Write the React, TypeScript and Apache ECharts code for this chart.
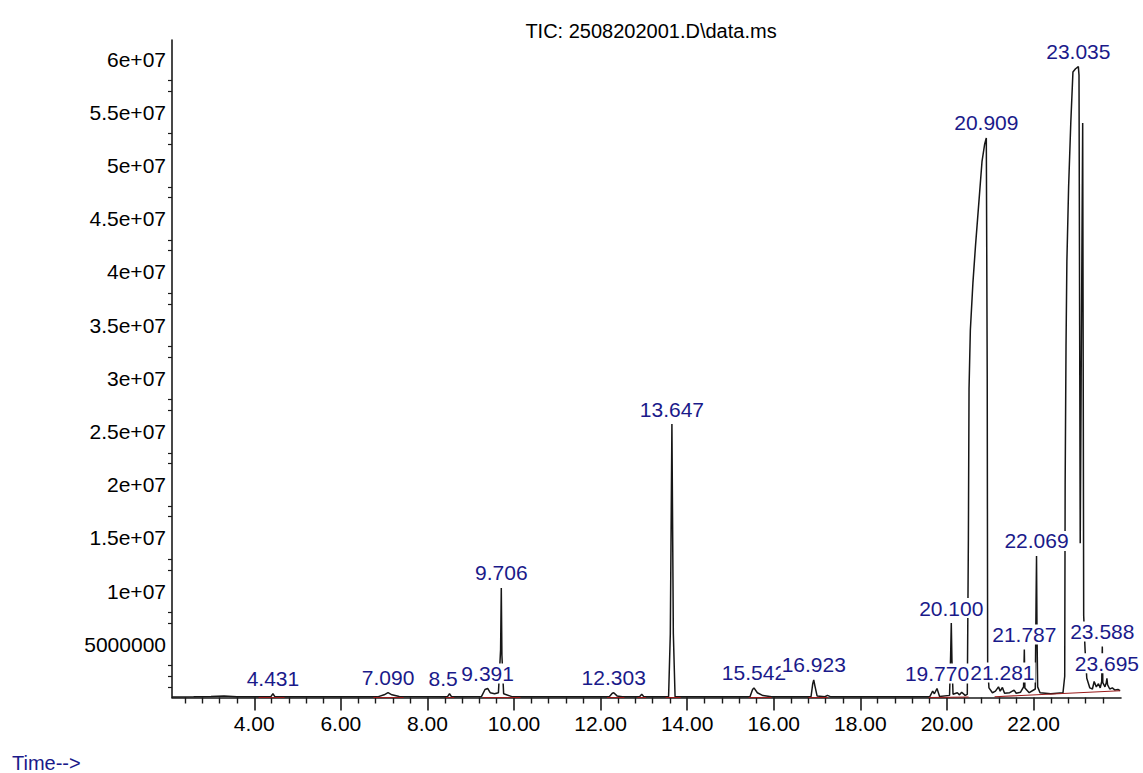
import React, { useEffect, useRef } from "react";
import * as echarts from "echarts";

// ---- Data ----
const retentionTime = [
  2.1, 2.6, 3.0, 3.3, 3.6, 4.38, 4.431, 4.48, 6.85, 7.0, 7.09, 7.18, 7.35,
  8.46, 8.51, 8.56, 9.25, 9.33, 9.391, 9.45, 9.55, 9.64, 9.69, 9.706, 9.72, 9.76, 9.95,
  12.2, 12.27, 12.303, 12.38, 12.5, 12.9, 12.95, 13.0,
  13.57, 13.61, 13.647, 13.68, 13.72,
  15.45, 15.51, 15.542, 15.62, 15.75, 15.95,
  16.86, 16.9, 16.923, 16.95, 17.0, 17.18, 17.24, 17.32,
  19.6, 19.67, 19.71, 19.77, 19.83,
  20.06, 20.085, 20.1, 20.115, 20.14, 20.24, 20.29, 20.34, 20.42, 20.47,
  20.495, 20.51, 20.54, 20.6, 20.66, 20.74, 20.81, 20.87, 20.909, 20.93, 20.94, 20.97,
  21.05, 21.12, 21.19, 21.23, 21.281, 21.33, 21.45, 21.55, 21.6, 21.7, 21.77, 21.787, 21.8, 21.9,
  22.04, 22.058, 22.069, 22.08, 22.095, 22.15, 22.4, 22.68,
  22.72, 22.73, 22.75, 22.77, 22.81, 22.86, 22.91, 22.97, 23.035, 23.05, 23.065, 23.078,
  23.1, 23.135, 23.15, 23.158, 23.19, 23.23, 23.3, 23.36, 23.4, 23.45, 23.5, 23.54,
  23.575, 23.588, 23.6, 23.65, 23.68, 23.695, 23.71, 23.76, 23.82, 23.88, 23.95, 24.0,
];
const ticAbundance = [
  0.05e6, 0.06e6, 0.1e6, 0.14e6, 0.06e6, 0.06e6, 0.35e6, 0.06e6, 0.06e6, 0.25e6, 0.45e6, 0.25e6, 0.1e6,
  0.06e6, 0.35e6, 0.06e6, 0.1e6, 0.75e6, 0.85e6, 0.45e6, 0.35e6, 0.45e6, 4.5e6, 10.3e6, 4.0e6, 0.35e6, 0.08e6,
  0.08e6, 0.4e6, 0.45e6, 0.15e6, 0.07e6, 0.07e6, 0.3e6, 0.07e6,
  0.07e6, 6.0e6, 25.7e6, 6.0e6, 0.08e6,
  0.07e6, 0.75e6, 0.9e6, 0.45e6, 0.18e6, 0.07e6,
  0.07e6, 1.3e6, 1.65e6, 1.1e6, 0.15e6, 0.07e6, 0.2e6, 0.06e6,
  0.06e6, 0.6e6, 0.35e6, 0.85e6, 0.1e6,
  0.2e6, 4.0e6, 7.0e6, 3.5e6, 0.3e6, 0.45e6, 0.25e6, 0.5e6, 0.2e6, 0.3e6,
  15e6, 29e6, 34.5e6, 39e6, 42.5e6, 46.7e6, 50.4e6, 52.0e6, 52.6e6, 30e6, 3.0e6, 0.9e6,
  0.45e6, 0.6e6, 1.0e6, 0.6e6, 0.95e6, 0.4e6, 0.45e6, 0.7e6, 0.4e6, 0.5e6, 1.0e6, 4.5e6, 0.9e6, 0.45e6,
  0.8e6, 9.0e6, 13.3e6, 6.0e6, 1.0e6, 0.45e6, 0.35e6, 0.45e6,
  2.0e6, 20e6, 33e6, 41e6, 48e6, 54e6, 58.8e6, 59.1e6, 59.3e6, 58.5e6, 35e6, 14.5e6,
  30e6, 54e6, 25e6, 7.7e6, 4.5e6, 1.8e6, 0.9e6, 0.8e6, 1.5e6, 1.0e6, 1.3e6, 0.9e6,
  1.5e6, 4.8e6, 1.4e6, 1.0e6, 1.4e6, 1.8e6, 1.2e6, 0.8e6, 0.9e6, 0.7e6, 0.75e6, 0.65e6,
];

const peakLabels = [
  "4.431", "7.090", "8.5", "9.391", "9.706", "12.303", "13.647", "15.542", "16.923",
  "19.770", "20.100", "20.909", "21.281", "21.787", "22.069", "23.035", "23.588", "23.695",
];
const peakTimes = [
  4.431, 7.09, 8.5, 9.391, 9.706, 12.303, 13.647, 15.542, 16.923,
  19.77, 20.1, 20.909, 21.281, 21.787, 22.069, 23.035, 23.588, 23.695,
];
const peakApex = [
  0.35e6, 0.45e6, 0.35e6, 0.85e6, 10.3e6, 0.45e6, 25.7e6, 0.9e6, 1.65e6,
  0.85e6, 7.0e6, 52.6e6, 0.95e6, 4.5e6, 13.3e6, 59.3e6, 4.8e6, 1.8e6,
];

// integration baselines (red)
const baselineStart = [4.1, 6.75, 8.42, 9.28, 12.15, 12.85, 13.5, 15.42, 16.8, 19.58, 21.1];
const baselineEnd = [4.7, 7.45, 8.62, 10.15, 12.55, 13.05, 13.85, 15.95, 17.25, 20.5, 24.0];
const baselineStartLevel = [0, 0, 0, 0, 0, 0, 0, 0, 0, 0, 0.07e6];
const baselineEndLevel = [0, 0, 0, 0, 0, 0, 0, 0, 0, 0.05e6, 0.64e6];

const xTickValues = [4, 6, 8, 10, 12, 14, 16, 18, 20, 22];
const xTickLabels = ["4.00", "6.00", "8.00", "10.00", "12.00", "14.00", "16.00", "18.00", "20.00", "22.00"];
const yTickValues = [5e6, 10e6, 15e6, 20e6, 25e6, 30e6, 35e6, 40e6, 45e6, 50e6, 55e6, 60e6];
const yTickLabels = [
  "5000000", "1e+07", "1.5e+07", "2e+07", "2.5e+07", "3e+07",
  "3.5e+07", "4e+07", "4.5e+07", "5e+07", "5.5e+07", "6e+07",
];

const X_MIN = 2.1;
const X_MAX = 24.02;
const Y_MAX = 61.8e6;
const FONT = '"Liberation Sans", Arial, Helvetica, sans-serif';
const LABEL_BLUE = "#1a1a8a";

// minor tick positions (axis structure)
const xMinorTicks: number[] = [];
for (let k = 6; k <= 59; k++) {
  if (k % 5 !== 0) xMinorTicks.push(Math.round(k * 4) / 10);
}
const yMinorTicks: number[] = [1e6];
for (let k = 0; k < 12; k++) {
  yMinorTicks.push(k * 5e6 + 2e6, k * 5e6 + 3e6);
}

function lookup(values: number[], labels: string[], v: number) {
  const i = values.findIndex((x) => Math.abs(x - v) < 1e-6 * Math.max(1, Math.abs(x)));
  return i >= 0 ? labels[i] : "";
}

export default function App() {
  const ref = useRef<HTMLDivElement>(null);

  useEffect(() => {
    if (!ref.current) return;
    const chart = echarts.init(ref.current, undefined, { renderer: "svg" });

    const trace = retentionTime.map((t, i) => [t, ticAbundance[i]]);
    const baseline: any[] = [];
    baselineStart.forEach((s, i) => {
      if (i > 0) baseline.push(null);
      baseline.push([s, baselineStartLevel[i]]);
      baseline.push([baselineEnd[i], baselineEndLevel[i]]);
    });
    const labelData = peakTimes.map((t, i) => ({
      value: [t, peakApex[i]],
      name: peakLabels[i],
      label: peakLabels[i] === "8.5" ? { offset: [-6, 0] } : undefined,
    }));

    const axisColor = "#1a1a1a";

    const option: any = {
      animation: false,
      backgroundColor: "#ffffff",
      textStyle: { fontFamily: FONT },
      title: {
        text: "TIC: 2508202001.D\\data.ms",
        left: 646,
        top: 16,
        textAlign: "center",
        textStyle: { fontFamily: FONT, fontSize: 20, fontWeight: "normal", color: "#000" },
      },
      graphic: [
        {
          type: "text",
          left: 12,
          top: 753,
          style: { text: "Time-->", fill: LABEL_BLUE, font: `20px ${FONT}` },
        },
      ],
      grid: { left: 172, right: 22, top: 40, bottom: 75.5, containLabel: false },
      xAxis: [
        {
          type: "value",
          min: X_MIN,
          max: X_MAX,
          position: "bottom",
          axisLine: { show: true, onZero: false, lineStyle: { color: axisColor, width: 1.6 } },
          axisTick: { show: true, customValues: xTickValues, length: 13, lineStyle: { color: axisColor, width: 1.6 } },
          axisLabel: {
            customValues: xTickValues,
            formatter: (v: number) => lookup(xTickValues, xTickLabels, v),
            margin: 15,
            fontSize: 21,
            fontFamily: FONT,
            color: "#000",
          },
          splitLine: { show: false },
        },
        {
          type: "value",
          min: X_MIN,
          max: X_MAX,
          position: "bottom",
          axisLine: { show: false, onZero: false },
          axisTick: { show: true, customValues: xMinorTicks, length: 6, lineStyle: { color: axisColor, width: 1.4 } },
          axisLabel: { show: false },
          splitLine: { show: false },
        },
      ],
      yAxis: [
        {
          type: "value",
          min: 0,
          max: Y_MAX,
          position: "left",
          axisLine: { show: true, onZero: false, lineStyle: { color: axisColor, width: 1.6 } },
          axisTick: { show: false },
          axisLabel: {
            customValues: yTickValues,
            formatter: (v: number) => lookup(yTickValues, yTickLabels, v),
            margin: 6,
            fontSize: 21,
            fontFamily: FONT,
            color: "#000",
          },
          splitLine: { show: false },
        },
        {
          type: "value",
          min: 0,
          max: Y_MAX,
          position: "left",
          axisLine: { show: false, onZero: false },
          axisTick: { show: true, customValues: yMinorTicks, length: 4, lineStyle: { color: axisColor, width: 1.2 } },
          axisLabel: { show: false },
          splitLine: { show: false },
        },
      ],
      series: [
        {
          type: "line",
          name: "TIC",
          data: trace,
          xAxisIndex: 0,
          yAxisIndex: 0,
          showSymbol: false,
          symbol: "none",
          lineStyle: { color: "#161616", width: 1.5 },
          z: 2,
          silent: true,
        },
        {
          type: "line",
          name: "baseline",
          data: baseline,
          xAxisIndex: 0,
          yAxisIndex: 0,
          connectNulls: false,
          showSymbol: false,
          symbol: "none",
          lineStyle: { color: "#9b1c1c", width: 1.1 },
          z: 3,
          silent: true,
        },
        {
          type: "scatter",
          name: "peaks",
          data: labelData,
          xAxisIndex: 0,
          yAxisIndex: 0,
          symbolSize: 0,
          z: 5,
          silent: true,
          itemStyle: { opacity: 1 },
          label: {
            show: true,
            position: "top",
            distance: 5,
            formatter: (p: any) => p.name,
            fontFamily: FONT,
            fontSize: 21,
            lineHeight: 20,
            color: LABEL_BLUE,
            opacity: 1,
            backgroundColor: "#ffffff",
            padding: [0, 1, 0, 1],
          },
        },
      ],
    };

    chart.setOption(option);
    return () => chart.dispose();
  }, []);

  return (
    <div
      ref={ref}
      style={{ position: "absolute", left: 0, top: 0, width: 1143, height: 773, background: "#fff" }}
    />
  );
}
